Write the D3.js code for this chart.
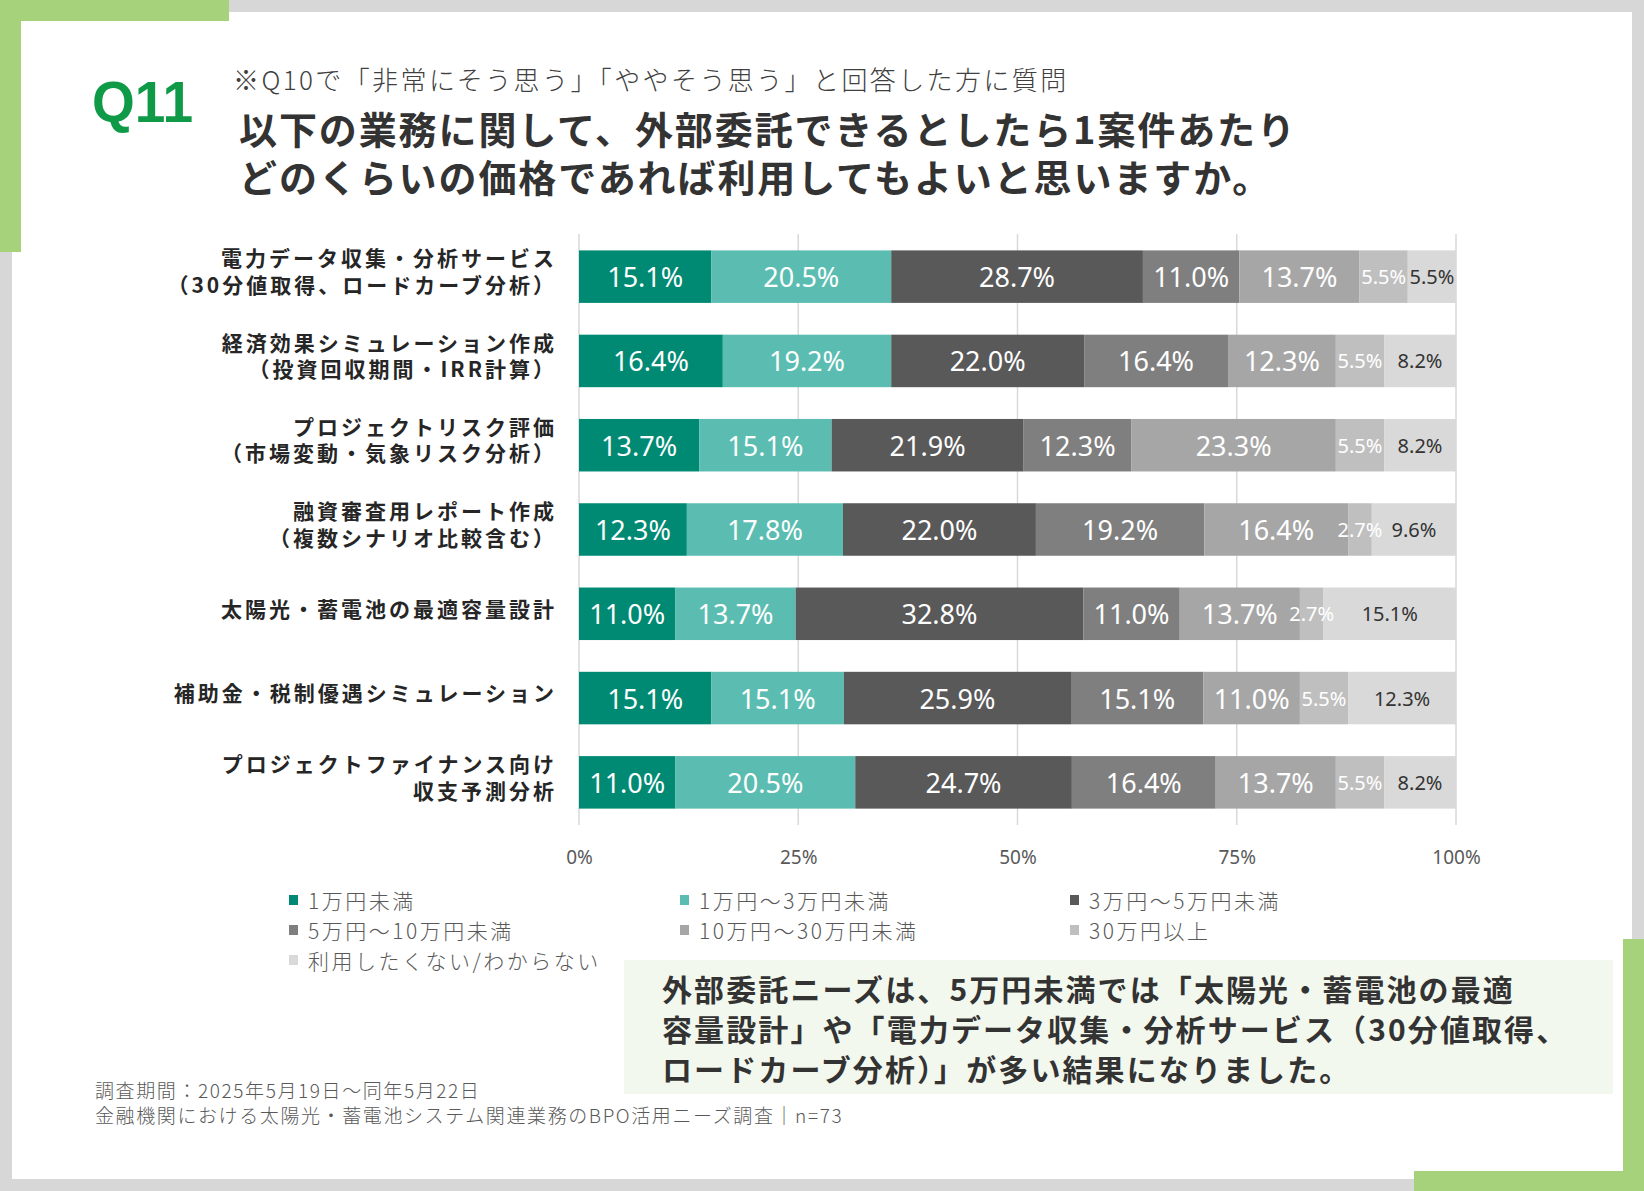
<!DOCTYPE html>
<html><head><meta charset="utf-8">
<script src="https://cdn.jsdelivr.net/npm/d3@7"></script>
<style>
body{margin:0;background:#fff}
svg{display:block}
text{font-family:"Noto Sans CJK JP","Noto Sans",sans-serif}
</style>
</head><body>
<svg id="c" width="1644" height="1191"></svg>
<script>
// ---- data ----
const categories = [
  ["電力データ収集・分析サービス","（30分値取得、ロードカーブ分析）"],
  ["経済効果シミュレーション作成","（投資回収期間・IRR計算）"],
  ["プロジェクトリスク評価","（市場変動・気象リスク分析）"],
  ["融資審査用レポート作成","（複数シナリオ比較含む）"],
  ["太陽光・蓄電池の最適容量設計"],
  ["補助金・税制優遇シミュレーション"],
  ["プロジェクトファイナンス向け","収支予測分析"]
];
const seriesNames = ["1万円未満","1万円～3万円未満","3万円～5万円未満","5万円～10万円未満","10万円～30万円未満","30万円以上","利用したくない/わからない"];
const s1 = [15.1,16.4,13.7,12.3,11.0,15.1,11.0];
const s2 = [20.5,19.2,15.1,17.8,13.7,15.1,20.5];
const s3 = [28.7,22.0,21.9,22.0,32.8,25.9,24.7];
const s4 = [11.0,16.4,12.3,19.2,11.0,15.1,16.4];
const s5 = [13.7,12.3,23.3,16.4,13.7,11.0,13.7];
const s6 = [5.5,5.5,5.5,2.7,2.7,5.5,5.5];
const s7 = [5.5,8.2,8.2,9.6,15.1,12.3,8.2];
const seriesValues = [s1,s2,s3,s4,s5,s6,s7];
const tickValues = [0,25,50,75,100];
const tickLabels = ["0%","25%","50%","75%","100%"];
const colors = ["#008a74","#5bbdb1","#595959","#7f7f7f","#a6a6a6","#bfbfbf","#d9d9d9"];

const svg = d3.select("#c");

// ---- frame ----
svg.append("rect").attr("width",1644).attr("height",1191).attr("fill","#d7d7d7");
svg.append("rect").attr("x",12).attr("y",12).attr("width",1620).attr("height",1167).attr("fill","#fff");
const green = "#a5d27b";
svg.append("rect").attr("x",0).attr("y",0).attr("width",229).attr("height",21).attr("fill",green);
svg.append("rect").attr("x",0).attr("y",0).attr("width",21).attr("height",252).attr("fill",green);
svg.append("rect").attr("x",1623).attr("y",939).attr("width",21).attr("height",252).attr("fill",green);
svg.append("rect").attr("x",1414).attr("y",1171).attr("width",230).attr("height",20).attr("fill",green);

// ---- titles ----
svg.append("text").attr("transform","translate(92,122) scale(0.95,1)")
  .style("font-family",'"Liberation Sans",Arial,sans-serif')
  .style("font-weight",700).style("font-size","58px")
  .attr("fill","#0f9a48").text("Q11");
svg.append("text").attr("x",233).attr("y",90)
  .style("font-weight",300).style("font-size","26px").style("letter-spacing","2.4px").attr("fill","#404040")
  .text("※Q10で「非常にそう思う」「ややそう思う」と回答した方に質問");
const titleLines = ["以下の業務に関して、外部委託できるとしたら1案件あたり","どのくらいの価格であれば利用してもよいと思いますか。"];
const tt = svg.append("text").attr("x",239).attr("y",144)
  .style("font-weight",700).style("font-size","38px").style("letter-spacing","1.9px").attr("fill","#333");
tt.selectAll("tspan").data(titleLines).join("tspan")
  .attr("x",239).attr("y",(d,i)=>144+i*48).text(d=>d);

// ---- chart ----
const x = d3.scaleLinear().domain([0,100]).range([579,1456]);
const y = d3.scaleBand().domain(d3.range(categories.length)).range([234.5,824.5]).paddingInner(0.377).paddingOuter(0.1885);

// gridlines
svg.append("g").selectAll("line").data(tickValues).join("line")
  .attr("x1",d=>x(d)).attr("x2",d=>x(d)).attr("y1",234).attr("y2",825)
  .attr("stroke","#d9d9d9").attr("stroke-width",1.5);

// stacked data
const rows = categories.map((c,i)=>{
  let acc = 0;
  return seriesValues.map((s,k)=>{ const v=s[i]; const o={row:i,k,v,x0:acc,x1:acc+v}; acc+=v; return o; });
});
const segs = rows.flat();

svg.append("g").selectAll("rect").data(segs).join("rect")
  .attr("x",d=>x(d.x0)).attr("width",d=>x(d.x1)-x(d.x0))
  .attr("y",d=>y(d.row)).attr("height",y.bandwidth())
  .attr("fill",d=>colors[d.k]);

svg.append("g").selectAll("text").data(segs).join("text")
  .attr("x",d=>x((d.x0+d.x1)/2)).attr("y",d=>y(d.row)+y.bandwidth()/2)
  .attr("text-anchor","middle").attr("dominant-baseline","central")
  .style("font-family",'"Noto Sans","Open Sans",sans-serif')
  .style("font-size",d=>d.k>=5?"20px":"27px")
  .attr("fill",d=>d.k===6?"#333":"#fff")
  .text(d=>d.v.toFixed(1)+"%");

// category labels (one text per category, lines as tspans)
svg.append("g").selectAll("text").data(categories).join("text")
  .attr("text-anchor","end")
  .style("font-weight",700).style("font-size","21px").style("letter-spacing","3px")
  .attr("fill","#262626")
  .each(function(lines,i){
    const cy = y(i)+y.bandwidth()/2 - 6;
    const n = lines.length;
    d3.select(this).selectAll("tspan").data(lines).join("tspan")
      .attr("x",557).attr("y",(t,j)=>cy + (j-(n-1)/2)*26.5)
      .attr("dominant-baseline","central").text(t=>t);
  });

// x axis
const axis = d3.axisBottom(x).tickValues(tickValues).tickFormat((d,i)=>tickLabels[i]).tickSize(0).tickPadding(0);
const ag = svg.append("g").attr("transform","translate(0,857)").call(axis);
ag.select(".domain").remove();
ag.selectAll("text").attr("dy",null).attr("dominant-baseline","central")
  .style("font-family",'"Noto Sans",sans-serif').style("font-size","19px").attr("fill","#595959");

// legend
const legX = [289,680,1070], legY = [900,930,960];
const lg = svg.append("g").selectAll("g").data(seriesNames).join("g")
  .attr("transform",(d,i)=>`translate(${legX[i%3]},${legY[Math.floor(i/3)]})`);
lg.append("rect").attr("x",0).attr("y",-5).attr("width",9).attr("height",10).attr("fill",(d,i)=>colors[i]);
lg.append("text").attr("x",19).attr("y",0).attr("dominant-baseline","central")
  .style("font-weight",300).style("font-size","21px").style("letter-spacing","2.5px")
  .attr("fill","#595959").text(d=>d);

// highlight box
svg.append("rect").attr("x",624).attr("y",960).attr("width",989).attr("height",134).attr("fill","#f3f8ee");
const boxLines = ["外部委託ニーズは、5万円未満では「太陽光・蓄電池の最適","容量設計」や「電力データ収集・分析サービス（30分値取得、","ロードカーブ分析）」が多い結果になりました。"];
svg.append("text")
  .style("font-weight",700).style("font-size","30px").style("letter-spacing","2.1px")
  .attr("fill","#333")
  .selectAll("tspan").data(boxLines).join("tspan")
  .attr("x",662).attr("y",(d,i)=>988+i*40).attr("dominant-baseline","central").text(d=>d);

// footer
const footer = ["調査期間：2025年5月19日～同年5月22日","金融機関における太陽光・蓄電池システム関連業務のBPO活用ニーズ調査｜n=73"];
svg.append("text")
  .style("font-weight",300).style("font-size","19px").style("letter-spacing","1.6px")
  .attr("fill","#595959")
  .selectAll("tspan").data(footer).join("tspan")
  .attr("x",95).attr("y",(d,i)=>1089+i*25).attr("dominant-baseline","central").text(d=>d);
</script>
</body></html>
